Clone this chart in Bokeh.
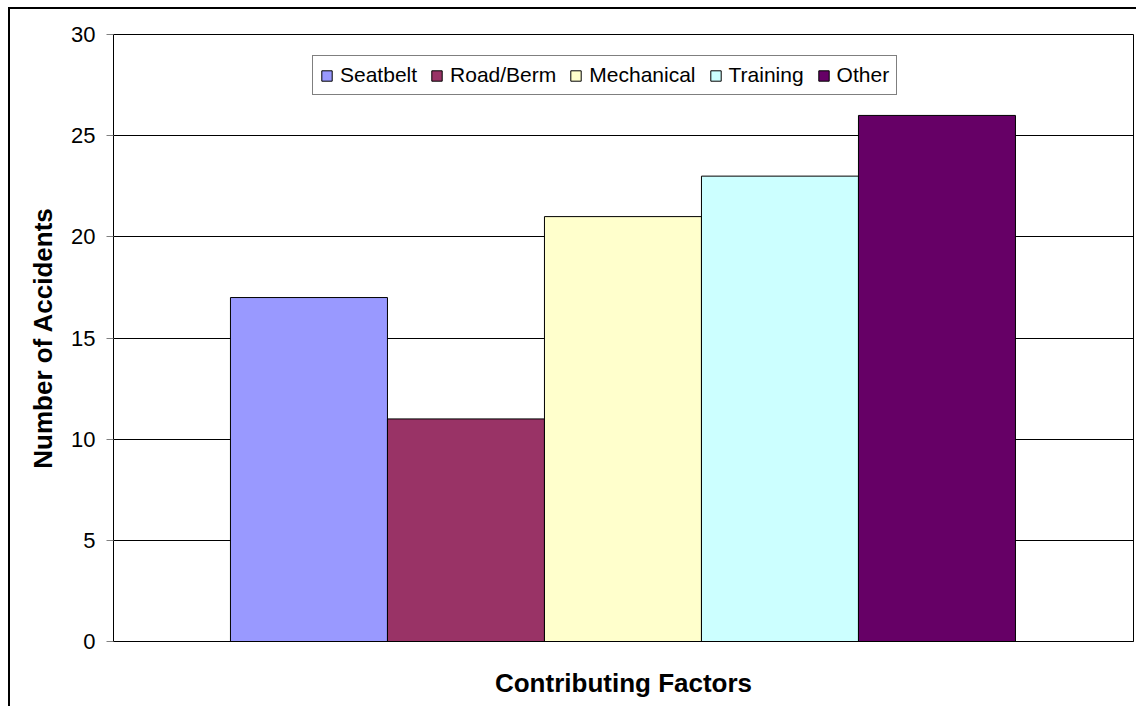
from bokeh.plotting import figure
from bokeh.models import Range1d, FixedTicker, Legend, LegendItem, ColumnDataSource
from bokeh.embed import file_html
from bokeh.resources import INLINE

categories = ["Seatbelt", "Road/Berm", "Mechanical", "Training", "Other"]
values = [17, 11, 21, 23, 26]
colors = ["#9999FF", "#993366", "#FFFFCC", "#CCFFFF", "#660066"]
y_ticks = [0, 5, 10, 15, 20, 25, 30]

FONT = "Liberation Sans"

p = figure(width=1128, height=699,
           x_range=Range1d(-0.745, 5.7518), y_range=Range1d(0, 30),
           output_backend="svg", toolbar_location=None,
           min_border_left=103, min_border_right=5,
           min_border_top=25, min_border_bottom=67)
p.margin = (7, 0, 0, 8)
p.styles = {"border-left": "2px solid black", "border-top": "2px solid black"}

p.background_fill_color = "white"
p.border_fill_color = "white"
p.outline_line_color = "black"
p.outline_line_width = 1

items = []
for i, (c, v, col) in enumerate(zip(categories, values, colors)):
    src = ColumnDataSource(dict(x=[i + 0.5], top=[v]))
    r = p.vbar(x="x", top="top", bottom=0, width=1.0, source=src,
               fill_color=col, line_color="black", line_width=1)
    items.append(LegendItem(label=c, renderers=[r]))

# axes
p.xaxis.ticker = FixedTicker(ticks=[])
p.xaxis.major_label_text_font_size = "0px"
p.xaxis.axis_line_color = "black"
p.xaxis.major_tick_line_color = None
p.xaxis.minor_tick_line_color = None
p.xaxis.axis_label = "Contributing Factors"
p.xaxis.axis_label_text_font = FONT
p.xaxis.axis_label_text_font_style = "bold"
p.xaxis.axis_label_text_font_size = "26px"
p.xaxis.axis_label_text_color = "black"
p.xaxis.axis_label_standoff = 26

p.yaxis.ticker = FixedTicker(ticks=y_ticks)
p.yaxis.minor_tick_line_color = None
p.yaxis.major_tick_out = 7
p.yaxis.major_tick_in = 0
p.yaxis.major_tick_line_color = "#808080"
p.yaxis.axis_line_color = "black"
p.yaxis.major_label_text_font = FONT
p.yaxis.major_label_text_font_size = "22px"
p.yaxis.major_label_text_color = "black"
p.yaxis.major_label_standoff = 11
p.yaxis.axis_label = "Number of Accidents"
p.yaxis.axis_label_text_font = FONT
p.yaxis.axis_label_text_font_style = "bold"
p.yaxis.axis_label_text_font_size = "26px"
p.yaxis.axis_label_text_color = "black"
p.yaxis.axis_label_standoff = 10

p.xgrid.grid_line_color = None
p.ygrid.ticker = FixedTicker(ticks=y_ticks)
p.ygrid.grid_line_color = "black"
p.ygrid.grid_line_width = 1

legend = Legend(items=items, orientation="horizontal",
                location=(199, 546))
legend.label_text_font = FONT
legend.label_text_font_size = "21px"
legend.label_text_color = "black"
legend.glyph_width = 13
legend.glyph_height = 13
legend.label_standoff = 7
legend.spacing = 13
legend.padding = 7
legend.margin = 0
legend.border_line_color = "black"
legend.border_line_width = 1
legend.background_fill_color = "white"
legend.background_fill_alpha = 1
p.add_layout(legend)

open("out.html", "w").write(file_html(p, INLINE))
